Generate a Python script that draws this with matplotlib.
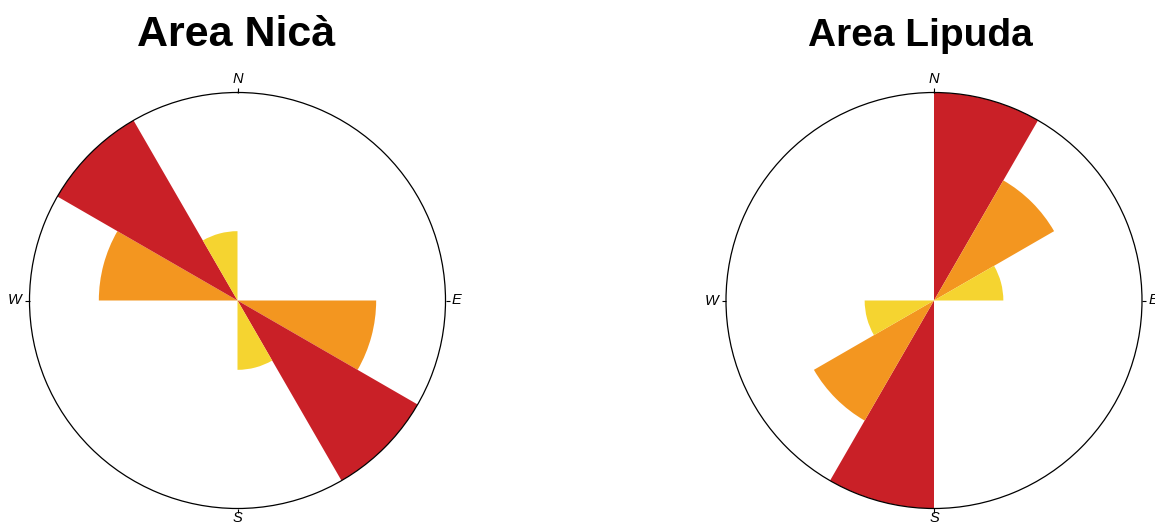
import numpy as np
import matplotlib
matplotlib.use("Agg")
import matplotlib.pyplot as plt

plt.rcParams["font.family"] = ["Liberation Sans", "DejaVu Sans"]

# 30-degree direction classes (bearing of the lower edge, clockwise from N)
bin_edges_deg = [0, 30, 60, 90, 120, 150, 180, 210, 240, 270, 300, 330]
bin_width_deg = 30

# frequency per class
nica_counts = [0, 0, 0, 2, 3, 1, 0, 0, 0, 2, 3, 1]
lipuda_counts = [3, 2, 1, 0, 0, 0, 3, 2, 1, 0, 0, 0]

titles = ["Area Nicà", "Area Lipuda"]
compass_labels = ["N", "E", "S", "W"]
compass_deg = [0, 90, 180, 270]

# fill colour by frequency
level_colors = {1: "#F5D430", 2: "#F39620", 3: "#C92027"}

W, H = 1155, 526
fig = plt.figure(figsize=(W / 100, H / 100), dpi=100)

centers = [(237.5, 300.5), (934.0, 300.5)]
radius_px = 208.0
title_x = [236, 920]
title_size = [31, 28]
title_baseline = 46.5
label_offset = [1.066, 1.054, 1.047, 1.070]  # radial position of N, E, S, W
tick_len = 1.02

for (cx, cy), counts, title, tx, ts in zip(centers, [nica_counts, lipuda_counts],
                                           titles, title_x, title_size):
    ax = fig.add_axes([(cx - radius_px) / W, (H - cy - radius_px) / H,
                       2 * radius_px / W, 2 * radius_px / H], projection="polar")
    ax.set_theta_zero_location("N")
    ax.set_theta_direction(-1)
    theta = np.deg2rad(bin_edges_deg)
    colors = [level_colors.get(c, "white") for c in counts]
    ax.bar(theta, counts, width=np.deg2rad(bin_width_deg), align="edge",
           color=colors, edgecolor="none", linewidth=0)
    rmax = max(counts)
    ax.set_ylim(0, rmax)
    ax.set_yticks([])
    ax.set_xticks([])
    ax.grid(False)
    ax.spines["polar"].set_linewidth(0.9)
    # compass ticks and letters
    for lab, deg, off in zip(compass_labels, compass_deg, label_offset):
        t = np.deg2rad(deg)
        ax.plot([t, t], [rmax, rmax * tick_len], color="black", lw=0.8,
                clip_on=False, solid_capstyle="butt")
        ax.text(t, rmax * off, lab, ha="center", va="center", fontsize=10.5,
                fontstyle="italic", clip_on=False)
    fig.text(tx / W, (H - title_baseline) / H, title, ha="center", va="baseline",
             fontsize=ts, fontweight="bold")

fig.savefig("out.png", dpi=100)
